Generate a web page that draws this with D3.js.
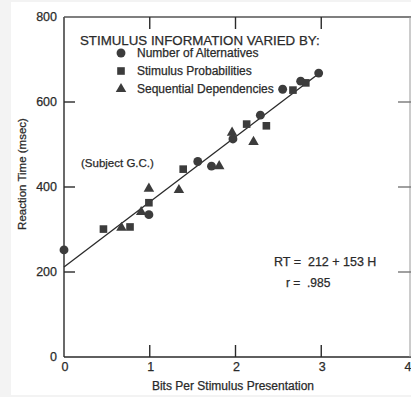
<!DOCTYPE html>
<html>
<head>
<meta charset="utf-8">
<script src="https://cdn.jsdelivr.net/npm/d3@7"></script>
<style>
  body { margin: 0; background: #f3f3f3; }
  svg { display: block; font-family: "Liberation Sans", Arial, Helvetica, sans-serif; }
  svg text { stroke: #2a2a2a; stroke-width: 0.25px; }
</style>
</head>
<body>
<script>
// bits per stimulus (H) and reaction time (msec)
const alternatives = [[0, 252], [0.99, 335], [1.56, 460], [1.72, 449], [1.97, 513],
  [2.29, 569], [2.55, 630], [2.76, 649], [2.97, 668]];
const probabilities = [[0.46, 301], [0.77, 306], [0.99, 363], [1.39, 442], [2.13, 548],
  [2.36, 544], [2.67, 628], [2.82, 645]];
const dependencies = [[0.67, 304], [0.90, 341], [0.99, 396], [1.34, 393], [1.81, 449],
  [1.96, 528], [2.21, 506]];
const fitIntercept = 212, fitSlope = 153;
const xTicks = [0, 1, 2, 3, 4];
const yTicks = [0, 200, 400, 600, 800];
const legendLabels = ["Number of Alternatives", "Stimulus Probabilities", "Sequential Dependencies"];

const width = 411, height = 397;
const ink = "#2a2a2a";

const svg = d3.select("body")
    .append("svg")
    .attr("width", width)
    .attr("height", height);

// paper
svg.append("rect")
    .attr("x", 11).attr("y", 2)
    .attr("width", width - 11).attr("height", 393)
    .attr("fill", "#fff");

const x = d3.scaleLinear().domain([0, 4]).range([64, 407]);
const y = d3.scaleLinear().domain([0, 800]).range([357, 17]);

// frame
const frame = svg.append("g").attr("stroke", ink).attr("fill", "none").attr("stroke-width", 1.4);
frame.append("line").attr("x1", x(0)).attr("x2", x(0)).attr("y1", y(0)).attr("y2", y(800));
frame.append("line").attr("x1", x(0)).attr("x2", 411).attr("y1", y(0)).attr("y2", y(0));
frame.append("line").attr("x1", x(0)).attr("x2", 411).attr("y1", y(800)).attr("y2", y(800)).attr("stroke", "#555");
frame.append("line").attr("x1", 410).attr("x2", 410).attr("y1", y(800)).attr("y2", y(0)).attr("stroke", "#999").attr("stroke-width", 1);

// inward ticks on all four sides
const inner = xTicks.filter(d => d > 0 && d < 4);
frame.selectAll(".tb").data(inner).join("line")
    .attr("x1", d => x(d)).attr("x2", d => x(d))
    .attr("y1", y(0)).attr("y2", y(0) - 12);
frame.selectAll(".tt").data(inner).join("line")
    .attr("x1", d => x(d)).attr("x2", d => x(d))
    .attr("y1", y(800)).attr("y2", y(800) + 12);
const innerY = yTicks.filter(d => d > 0 && d < 800);
frame.selectAll(".tl").data(innerY).join("line")
    .attr("x1", x(0)).attr("x2", x(0) + 11)
    .attr("y1", d => y(d)).attr("y2", d => y(d));
frame.selectAll(".tr").data(innerY).join("line")
    .attr("x1", 398).attr("x2", 411)
    .attr("y1", d => y(d)).attr("y2", d => y(d))
    .attr("stroke", "#777");

// tick labels
svg.append("g").attr("fill", ink).attr("font-size", 12.5)
    .selectAll("text").data(yTicks).join("text")
    .attr("x", 57).attr("y", d => y(d)).attr("dy", "0.35em")
    .attr("text-anchor", "end")
    .text(d => d);
svg.append("g").attr("fill", ink).attr("font-size", 12.5)
    .selectAll("text").data(xTicks).join("text")
    .attr("x", d => x(d) + 1).attr("y", y(0) + 10).attr("dy", "0.35em")
    .attr("text-anchor", "middle")
    .text(d => d);

// axis titles
svg.append("text")
    .attr("x", 233).attr("y", 386).attr("dy", "0.35em")
    .attr("text-anchor", "middle").attr("font-size", 12).attr("fill", ink)
    .text("Bits Per Stimulus Presentation");
svg.append("text")
    .attr("transform", "translate(22,174) rotate(-90)")
    .attr("dy", "0.35em")
    .attr("text-anchor", "middle").attr("font-size", 11.5).attr("fill", ink)
    .text("Reaction Time (msec)");

// regression line
svg.append("line")
    .attr("x1", x(0)).attr("y1", y(fitIntercept))
    .attr("x2", x(3)).attr("y2", y(fitIntercept + fitSlope * 3))
    .attr("stroke", ink).attr("stroke-width", 1.3);

// markers
const markColor = "#3c3c3c";
const shapes = [
  {data: alternatives, type: d3.symbolCircle, size: 62},
  {data: probabilities, type: d3.symbolSquare, size: 58},
  {data: dependencies, type: d3.symbolTriangle, size: 48}
];
shapes.forEach(s => {
  svg.append("g").attr("fill", markColor)
      .selectAll("path").data(s.data).join("path")
      .attr("transform", d => `translate(${x(d[0])},${y(d[1])})`)
      .attr("d", d3.symbol().type(s.type).size(s.size));
});

// legend
svg.append("text")
    .attr("x", 80).attr("y", 40).attr("dy", "0.35em")
    .attr("font-size", 13.3).attr("fill", ink)
    .text("STIMULUS INFORMATION VARIED BY:");
const legend = svg.append("g")
    .selectAll("g").data(legendLabels).join("g")
    .attr("transform", (d, i) => `translate(121,${53 + i * 18})`);
legend.append("path")
    .attr("fill", markColor)
    .attr("d", (d, i) => d3.symbol().type(shapes[i].type).size(shapes[i].size)());
legend.append("text")
    .attr("x", 16).attr("dy", "0.35em")
    .attr("font-size", 12).attr("fill", ink)
    .text(d => d);

// annotations
svg.append("text").attr("x", 81).attr("y", 163).attr("dy", "0.35em")
    .attr("font-size", 11.5).attr("fill", ink).text("(Subject G.C.)");
svg.append("text").attr("x", 274).attr("y", 262).attr("dy", "0.35em")
    .attr("font-size", 12.5).attr("fill", ink).attr("xml:space", "preserve")
    .text("RT =  212 + 153 H");
svg.append("text").attr("x", 286).attr("y", 283).attr("dy", "0.35em")
    .attr("font-size", 12).attr("fill", ink).attr("xml:space", "preserve")
    .text("r =  .985");
</script>
</body>
</html>
